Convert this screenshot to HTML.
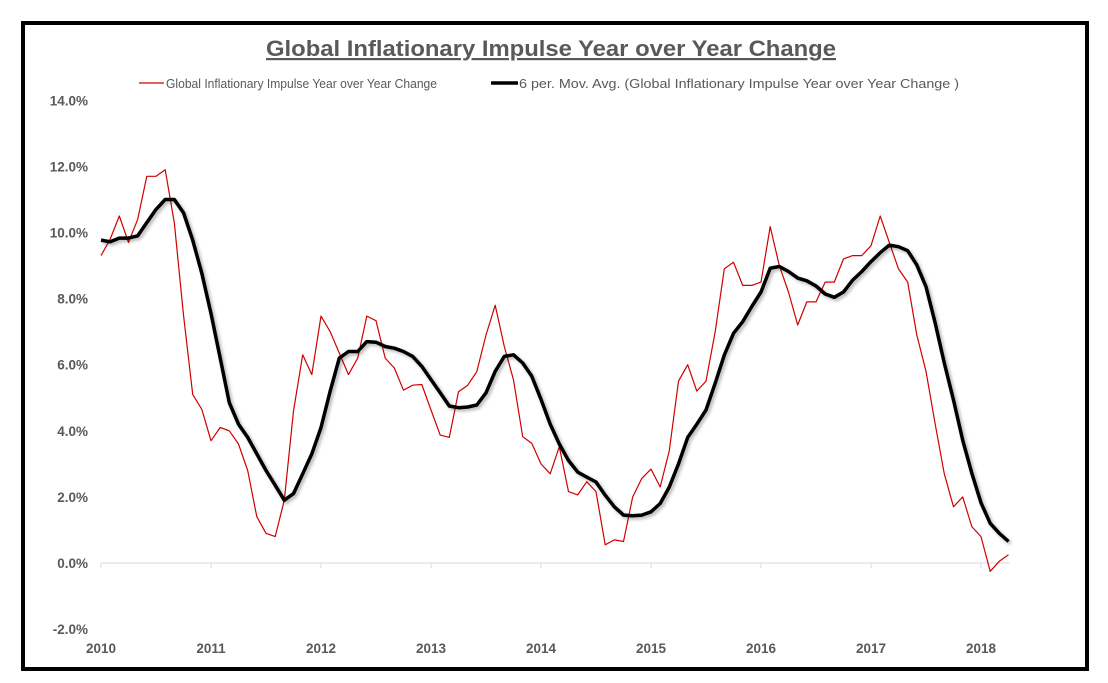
<!DOCTYPE html>
<html><head><meta charset="utf-8"><style>
html,body{margin:0;padding:0;background:#fff;}
svg{display:block;font-family:"Liberation Sans",sans-serif;}
</style></head><body>
<svg id="chart" width="1108" height="683" viewBox="0 0 1108 683" xmlns="http://www.w3.org/2000/svg">
<defs><filter id="sh" x="-5%" y="-5%" width="110%" height="110%"><feDropShadow dx="2" dy="2" stdDeviation="1.5" flood-color="#000" flood-opacity="0.3"/></filter></defs>
<rect x="23" y="23" width="1064" height="646" fill="#fff" stroke="#000" stroke-width="4"/>
<text x="266" y="56" font-size="22" font-weight="bold" fill="#595959" textLength="570" lengthAdjust="spacingAndGlyphs" text-decoration="underline">Global Inflationary Impulse Year over Year Change</text>
<line x1="139" y1="83" x2="164" y2="83" stroke="#d00000" stroke-width="1.3"/>
<text x="166" y="88" font-size="13" fill="#595959" textLength="271" lengthAdjust="spacingAndGlyphs">Global Inflationary Impulse Year over Year Change</text>
<line x1="491" y1="83" x2="518" y2="83" stroke="#000" stroke-width="3.5"/>
<text x="519" y="88" font-size="13" fill="#595959" textLength="440" lengthAdjust="spacingAndGlyphs">6 per. Mov. Avg. (Global Inflationary Impulse Year over Year Change )</text>
<g id="axes"></g>
<g id="series"></g>
</svg>
<script>
const yTicks = [-2, 0, 2, 4, 6, 8, 10, 12, 14];
const yTickLabels = ["-2.0%","0.0%","2.0%","4.0%","6.0%","8.0%","10.0%","12.0%","14.0%"];
const years = ["2010","2011","2012","2013","2014","2015","2016","2017","2018"];
const yoy = [
9.3,9.8,10.5,9.7,10.4,11.7,11.7,11.9,10.3,7.5,5.1,4.65,
3.7,4.1,4.0,3.6,2.8,1.4,0.9,0.8,1.9,4.6,6.3,5.7,
7.47,7.0,6.35,5.7,6.2,7.47,7.33,6.2,5.9,5.23,5.38,5.4,
4.63,3.87,3.8,5.18,5.38,5.79,6.9,7.8,6.55,5.54,3.82,3.62,
3.0,2.7,3.52,2.16,2.06,2.46,2.16,0.55,0.7,0.65,2.0,2.56,
2.84,2.3,3.4,5.5,6.0,5.2,5.5,7.0,8.9,9.1,8.4,8.4,
8.5,10.18,9.0,8.2,7.2,7.9,7.9,8.5,8.5,9.2,9.3,9.3,
9.6,10.5,9.7,8.9,8.5,6.9,5.8,4.2,2.7,1.7,2.0,1.1,
0.8,-0.25,0.05,0.25];
const movAvg = [
9.77,9.72,9.83,9.83,9.9,10.3,10.7,11.0,11.0,10.6,9.77,8.77,
7.55,6.2,4.85,4.2,3.8,3.3,2.8,2.35,1.9,2.1,2.7,3.3,
4.1,5.2,6.2,6.4,6.4,6.7,6.68,6.55,6.5,6.4,6.25,5.95,
5.55,5.15,4.75,4.7,4.72,4.78,5.15,5.8,6.25,6.3,6.05,5.65,
4.95,4.2,3.6,3.1,2.75,2.6,2.45,2.05,1.7,1.45,1.43,1.45,
1.55,1.8,2.3,3.0,3.8,4.2,4.63,5.44,6.29,6.95,7.3,7.76,
8.2,8.92,8.97,8.82,8.62,8.54,8.38,8.14,8.04,8.2,8.56,8.82,
9.12,9.39,9.62,9.57,9.45,9.02,8.36,7.26,6.05,4.93,3.72,2.72,
1.82,1.2,0.9,0.65];

const NS="http://www.w3.org/2000/svg";
const x = i => 101 + i * (110.0/12);
const y = v => 563 - v * 33.05;
const axes = document.getElementById('axes');
const series = document.getElementById('series');
function mk(tag, attrs, parent){const e=document.createElementNS(NS,tag);for(const k in attrs)e.setAttribute(k,attrs[k]);parent.appendChild(e);return e;}

yTicks.forEach((t,k)=>{
  const e = mk('text',{x:88,y:y(t)+5,'text-anchor':'end','font-size':13.5,'font-weight':'bold',fill:'#595959'},axes);
  
  
  e.textContent = yTickLabels[k];
});
const ax = mk('line',{x1:x(0),y1:y(0),x2:x(yoy.length-1)+1,y2:y(0),stroke:'#d9d9d9','stroke-width':1},axes);


years.forEach((yr,k)=>{
  const tx = x(k*12);
  const tk = mk('line',{x1:tx,y1:y(0),x2:tx,y2:y(0)+5,stroke:'#d9d9d9','stroke-width':1},axes);
  
  
  const e = mk('text',{x:tx,y:653,'text-anchor':'middle','font-size':13.5,'font-weight':'bold',fill:'#595959'},axes);
  
  
  e.textContent = yr;
});
function pts(arr){return arr.map((v,i)=>x(i).toFixed(1)+','+y(v).toFixed(1)).join(' ');}
const red = mk('polyline',{points:pts(yoy),fill:'none',stroke:'#d00000','stroke-width':1.2,'stroke-linejoin':'round'},series);


const blk = mk('polyline',{points:pts(movAvg),fill:'none',stroke:'#000','stroke-width':3.5,'stroke-linejoin':'round',filter:'url(#sh)'},series);


</script>
</body></html>
